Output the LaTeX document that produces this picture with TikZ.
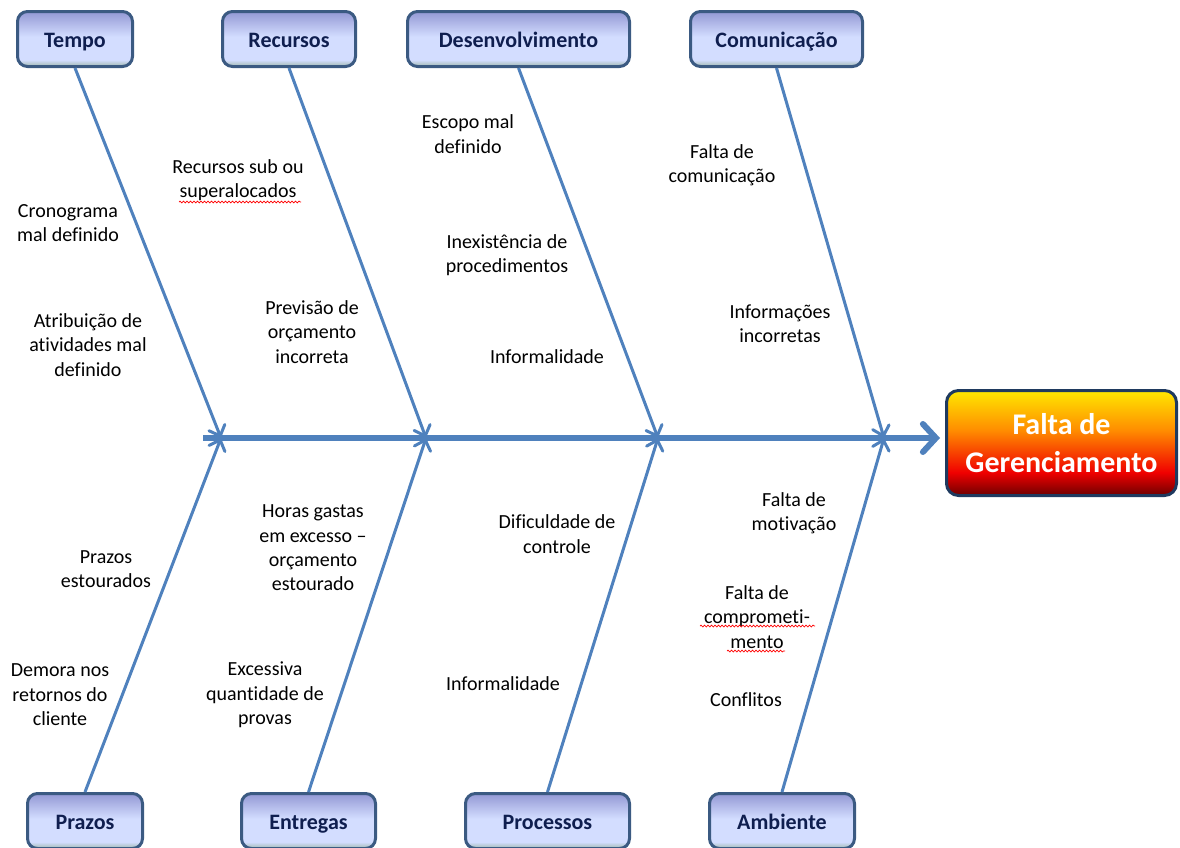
\documentclass[tikz,border=0pt]{standalone}
\usepackage{fontspec}
\setmainfont[Ligatures={TeX,NoCommon}]{Carlito}
\usetikzlibrary{arrows.meta,decorations.pathmorphing}

\definecolor{ribblue}{HTML}{4F81BD}
\definecolor{boxline}{HTML}{3B5A82}
\definecolor{boxtop}{HTML}{9398D4}
\definecolor{boxmid}{HTML}{D3DDFF}
\definecolor{boxbot}{HTML}{9FB8AE}
\definecolor{boxtext}{HTML}{0F1E4F}
\definecolor{effline}{HTML}{1F3A5F}
\definecolor{effyellow}{HTML}{FFE800}
\definecolor{efforange}{HTML}{FF8C00}
\definecolor{effred}{HTML}{F00000}
\definecolor{effdark}{HTML}{6E0000}

\pgfdeclareverticalshading{boxshade}{100bp}{color(0bp)=(boxbot); color(25bp)=(boxbot);
  color(31bp)=(boxmid); color(52bp)=(boxmid); color(75bp)=(boxtop); color(100bp)=(boxtop)}
\pgfdeclareverticalshading{effectshade}{100bp}{color(0bp)=(effdark); color(25bp)=(effdark);
  color(36bp)=(effred); color(56bp)=(efforange); color(75bp)=(effyellow); color(100bp)=(effyellow)}

\begin{document}
\begin{tikzpicture}[x=1pt,y=-1pt,
    causebox/.style={draw=boxline, line width=3pt, rounded corners=10pt, shading=boxshade,
      minimum height=55pt, inner sep=0pt, text height=18pt, text depth=2pt, text=boxtext,
      font=\fontsize{22}{26}\selectfont\bfseries},
    effectbox/.style={draw=effline, line width=3pt, rounded corners=12pt, shading=effectshade,
      minimum width=230pt, minimum height=105pt, inner sep=0pt, align=center, text=white,
      font=\fontsize{30}{38}\selectfont\bfseries},
    rib/.style={draw=ribblue, line width=3pt, -{Straight Barb[length=9pt,width=17pt,line cap=round]}},
    lbl/.style={align=center, inner sep=0pt, font=\fontsize{20}{24.4}\selectfont},
    typo/.style={draw=red, line width=0.7pt, decorate, decoration={snake, amplitude=0.9pt, segment length=3.5pt}}
  ]
  \useasboundingbox (0,0) rectangle (1180,847);

  % Causes, top row
  \node[causebox, minimum width=115pt] (tempo) at (75,39) {Tempo};
  \node[causebox, minimum width=133pt] (recursos) at (289,39) {Recursos};
  \node[causebox, minimum width=222pt] (desenv) at (518.5,39) {Desenvolvimento};
  \node[causebox, minimum width=172pt] (comunic) at (776.5,39) {Comunicação};

  % Causes, bottom row
  \node[causebox, minimum width=115pt] (prazos) at (85,821) {Prazos};
  \node[causebox, minimum width=134pt] (entregas) at (308.5,821) {Entregas};
  \node[causebox, minimum width=164pt] (processos) at (547.5,821) {Processos};
  \node[causebox, minimum width=145pt] (ambiente) at (782,821) {Ambiente};

  % Effect
  \node[effectbox] (efeito) at (1061.5,443) {Falta de\\Gerenciamento};

  % Spine
  \coordinate (tail) at (203,438);
  \coordinate (head) at (940,438);
  \coordinate (j1) at (221,438);
  \coordinate (j2) at (426,438);
  \coordinate (j3) at (658,438);
  \coordinate (j4) at (884,438);
  \draw[draw=ribblue, line width=6pt, -{Straight Barb[length=13pt,width=28pt,line cap=round]}] (tail) -- (head);

  % Ribs
  \draw[rib] (tempo.south) -- (j1);
  \draw[rib] (recursos.south) -- (j2);
  \draw[rib] (desenv.south) -- (j3);
  \draw[rib] (comunic.south) -- (j4);
  \draw[rib] (prazos.north) -- (j1);
  \draw[rib] (entregas.north) -- (j2);
  \draw[rib] (processos.north) -- (j3);
  \draw[rib] (ambiente.north) -- (j4);

  % Labels, top
  \node[lbl] (t1) at (68,223) {Cronograma\\mal definido};
  \node[lbl] (t2) at (88,345) {Atribuição de\\atividades mal\\definido};
  \node[lbl] (r1) at (238,180) {Recursos sub ou\\superalocados};
  \node[lbl] (r2) at (312,332) {Previsão de\\orçamento\\incorreta};
  \node[lbl] (d1) at (468,134) {Escopo mal\\definido};
  \node[lbl] (d2) at (507,255) {Inexistência de\\procedimentos};
  \node[lbl] (d3) at (547,357) {Informalidade};
  \node[lbl] (c1) at (722,165) {Falta de\\comunicação};
  \node[lbl] (c2) at (780,324) {Informações\\incorretas};

  % Labels, bottom
  \node[lbl] (p1) at (106,569) {Prazos\\estourados};
  \node[lbl] (p2) at (60,695) {Demora nos\\retornos do\\cliente};
  \node[lbl] (e1) at (313,548) {Horas gastas\\em excesso –\\orçamento\\estourado};
  \node[lbl] (e2) at (265,695) {Excessiva\\quantidade de\\provas};
  \node[lbl] (pr1) at (557,534) {Dificuldade de\\controle};
  \node[lbl] (pr2) at (503,684) {Informalidade};
  \node[lbl] (a1) at (794,513) {Falta de\\motivação};
  \node[lbl] (a2) at (757,617) {Falta de\\comprometi-\\mento};
  \node[lbl] (a3) at (746,700) {Conflitos};

  % Spell-check marks
  \draw[typo] (179,202) -- (301,202);
  \draw[typo] (700,626) -- (815,626);
  \draw[typo] (727,651) -- (785,651);
\end{tikzpicture}
\end{document}
